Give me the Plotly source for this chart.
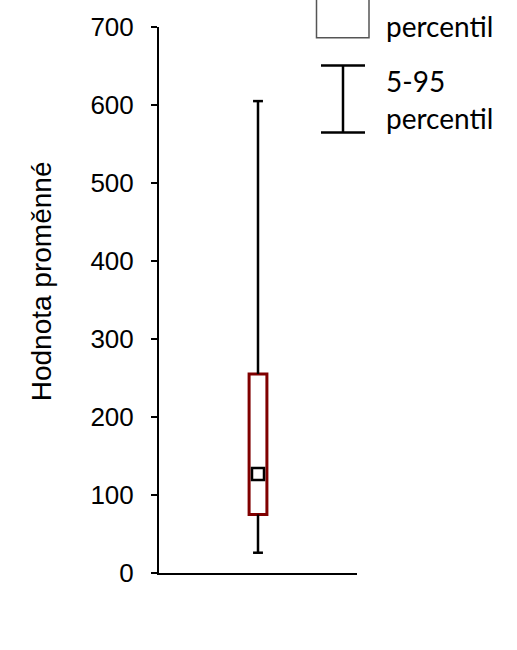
import plotly.graph_objects as go

# Summary statistics of the variable
category = ["Proměnná"]
p5 = [26]
q1 = [75]
mean = [127]
q3 = [255]
p95 = [605]

y_ticks = [0, 100, 200, 300, 400, 500, 600, 700]

# plot area in pixels (figure 517 x 650)
L, R, T, B = 159, 357, 19, 573
W, H = 517, 650


def px(x):
    return (x - L) / (R - L)


def py(y):
    return (B - y) / (B - T)


xpos = [0]
cap = 0.05

fig = go.Figure()

# whiskers (5-95 percentile), drawn outside the box
for i, x in enumerate(xpos):
    fig.add_trace(go.Scatter(x=[x, x], y=[p5[i], q1[i]], mode="lines",
                             line=dict(color="black", width=2.5), showlegend=False, hoverinfo="skip"))
    fig.add_trace(go.Scatter(x=[x, x], y=[q3[i], p95[i]], mode="lines",
                             line=dict(color="black", width=2.5), showlegend=False, hoverinfo="skip"))
    fig.add_trace(go.Scatter(x=[x - cap, x + cap], y=[p5[i], p5[i]], mode="lines",
                             line=dict(color="black", width=2.5), showlegend=False, hoverinfo="skip"))
    fig.add_trace(go.Scatter(x=[x - cap, x + cap], y=[p95[i], p95[i]], mode="lines",
                             line=dict(color="black", width=2.5), showlegend=False, hoverinfo="skip"))

# box (25-75 percentile)
fig.add_trace(go.Bar(x=xpos, y=[q3[i] - q1[i] for i in range(len(xpos))], base=q1,
                     width=0.18, marker=dict(color="white", line=dict(color="#800000", width=3)),
                     showlegend=False, hoverinfo="skip"))

# mean
fig.add_trace(go.Scatter(x=xpos, y=mean, mode="markers",
                         marker=dict(symbol="square", size=12, color="white",
                                     line=dict(color="black", width=2.5)),
                         showlegend=False, hoverinfo="skip"))

# legend drawn by hand
shapes = [
    dict(type="rect", xref="paper", yref="paper", x0=px(316.5), x1=px(369), y0=py(30), y1=py(-20),
         line=dict(color="#555555", width=1.5), fillcolor="white"),
    dict(type="line", xref="paper", yref="paper", x0=px(343), x1=px(343), y0=py(58), y1=py(126),
         line=dict(color="black", width=2.5)),
    dict(type="line", xref="paper", yref="paper", x0=px(321), x1=px(365), y0=py(58), y1=py(58),
         line=dict(color="black", width=2.5)),
    dict(type="line", xref="paper", yref="paper", x0=px(321), x1=px(365), y0=py(126), y1=py(126),
         line=dict(color="black", width=2.5)),
]

leg_font = dict(family="Lato", size=28, color="black")
annotations = [
    dict(text="percentil", xref="paper", yref="paper", x=px(384), y=py(18), xanchor="left", yanchor="middle",
         showarrow=False, font=leg_font),
    dict(text="5-95", xref="paper", yref="paper", x=px(384), y=py(74), xanchor="left", yanchor="middle",
         showarrow=False, font=leg_font),
    dict(text="percentil", xref="paper", yref="paper", x=px(384), y=py(111), xanchor="left", yanchor="middle",
         showarrow=False, font=leg_font),
    dict(text="Hodnota proměnné", xref="paper", yref="paper", x=px(41), y=py(277), xanchor="center",
         yanchor="middle", textangle=-90, showarrow=False,
         font=dict(family="Liberation Sans", size=28, color="black")),
]

fig.update_layout(
    width=W, height=H,
    margin=dict(l=L, r=W - R, t=T, b=H - B, pad=0),
    paper_bgcolor="white", plot_bgcolor="white",
    shapes=shapes, annotations=annotations,
    xaxis=dict(range=[-1, 1], showline=True, linecolor="black", linewidth=2,
               showticklabels=False, ticks="", showgrid=False, zeroline=False, fixedrange=True),
    yaxis=dict(range=[0, 700], tickvals=y_ticks, ticktext=[str(v) for v in y_ticks],
               showline=True, linecolor="black", linewidth=2, ticks="outside", ticklen=6,
               tickwidth=2, tickcolor="black", showgrid=False, zeroline=False,
               tickfont=dict(family="Liberation Sans", size=26, color="black"), ticklabelstandoff=12),
)

fig.write_html("out.html")
